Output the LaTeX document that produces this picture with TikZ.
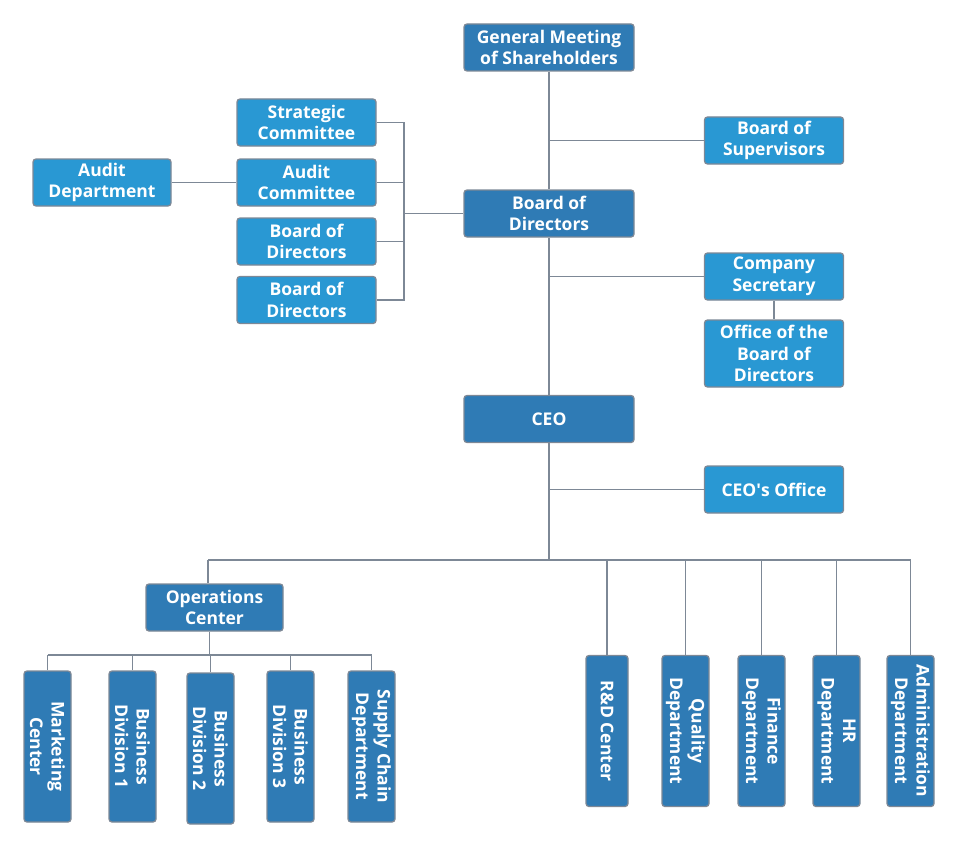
\documentclass[tikz,border=0pt]{standalone}
\usepackage{fontspec}
\setmainfont{Open Sans}
\definecolor{darkb}{HTML}{2F7BB5}
\definecolor{lightb}{HTML}{2998D3}
\definecolor{lineg}{HTML}{7D8896}
\tikzset{
  box/.style={draw=lineg, line width=1.3pt, rounded corners=3pt, text=white,
    font=\bfseries\fontsize{17.5}{21.5}\selectfont, align=center, inner sep=0pt},
  dark/.style={box, fill=darkb},
  light/.style={box, fill=lightb},
  wide/.style={minimum width=170pt, minimum height=47pt},
  side/.style={minimum width=139pt, minimum height=47pt},
  vert/.style={rotate=-90, minimum width=151pt, minimum height=47pt},
  conn/.style={draw=lineg, line width=1.5pt}
}
\begin{document}
\begin{tikzpicture}[x=1pt,y=-1pt]
\useasboundingbox (0,0) rectangle (958,848);
% main chain
\node[dark, wide] (gm) at (549,47.5) {General Meeting\\of Shareholders};
\node[dark, wide] (bod) at (549,213.5) {Board of\\Directors};
\node[dark, wide] (ceo) at (549,419) {CEO};
% right side
\node[light, side] (sup) at (774,140.5) {Board of\\Supervisors};
\node[light, side] (sec) at (774,276.5) {Company\\Secretary};
\node[light, side, minimum height=67pt] (off) at (774,353.5) {Office of the\\Board of\\Directors};
\node[light, side] (ceoo) at (774,489.5) {CEO\textquotesingle s Office};
% left committees
\node[light, side] (sc) at (306.5,122.5) {Strategic\\Committee};
\node[light, side] (ac) at (306.5,182.5) {Audit\\Committee};
\node[light, side] (bd1) at (306.5,241.5) {Board of\\Directors};
\node[light, side] (bd2) at (306.5,300) {Board of\\Directors};
\node[light, side, minimum width=138pt] (ad) at (102,182.5) {Audit\\Department};
% operations
\node[dark, minimum width=137pt, minimum height=47pt] (ops) at (214.5,607.5) {Operations\\Center};
\node[dark, vert] (mkt) at (47.5,746.5) {Marketing\\Center};
\node[dark, vert] (bu1) at (132.5,746.5) {Business\\Division 1};
\node[dark, vert] (bu2) at (210.5,748.5) {Business\\Division 2};
\node[dark, vert] (bu3) at (290.5,746.5) {Business\\Division 3};
\node[dark, vert] (scd) at (371.5,746.5) {Supply Chain\\Department};
% right departments
\node[dark, vert, minimum height=42pt] (rd) at (607,731) {R\&D Center};
\node[dark, vert] (qd) at (685.5,731) {Quality\\Department};
\node[dark, vert] (fd) at (761.5,731) {Finance\\Department};
\node[dark, vert] (hr) at (836.5,731) {HR\\Department};
\node[dark, vert] (adm) at (910.5,731) {Administration\\Department};
% coordinates
\coordinate (br) at (404,213.5);
\coordinate (busL) at (208,560);
\coordinate (busR) at (910.5,560);
\coordinate (sbL) at (47.5,655);
\coordinate (sbR) at (371.5,655);
\coordinate (opsx) at (209.5,0);
% connectors
\draw[conn] (gm) -- (bod);
\draw[conn] (bod) -- (ceo);
\draw[conn] (sup.west -| gm) -- (sup.west);
\draw[conn] (sec.west -| gm) -- (sec.west);
\draw[conn] (sec) -- (off);
\draw[conn] (ceoo.west -| ceo) -- (ceoo.west);
\draw[conn] (sc.east) -- (sc.east -| br) -- (bd2.east -| br) -- (bd2.east);
\draw[conn] (ac.east) -- (ac.east -| br);
\draw[conn] (bd1.east) -- (bd1.east -| br);
\draw[conn] (br) -- (bod.west);
\draw[conn] (ad) -- (ac);
\draw[conn] (ceo) -- (ceo.south |- busL);
\draw[conn] (busL) -- (busR);
\draw[conn] (busL) -- (busL |- ops.north);
\draw[conn] (opsx |- ops.south) -- (opsx |- sbL);
\draw[conn] (sbL) -- (sbR);
\foreach \n in {mkt,bu1,bu2,bu3,scd} \draw[conn] (\n.center |- sbL) -- (\n);
\foreach \n in {rd,qd,fd,hr,adm} \draw[conn] (\n.center |- busL) -- (\n);
\end{tikzpicture}
\end{document}
